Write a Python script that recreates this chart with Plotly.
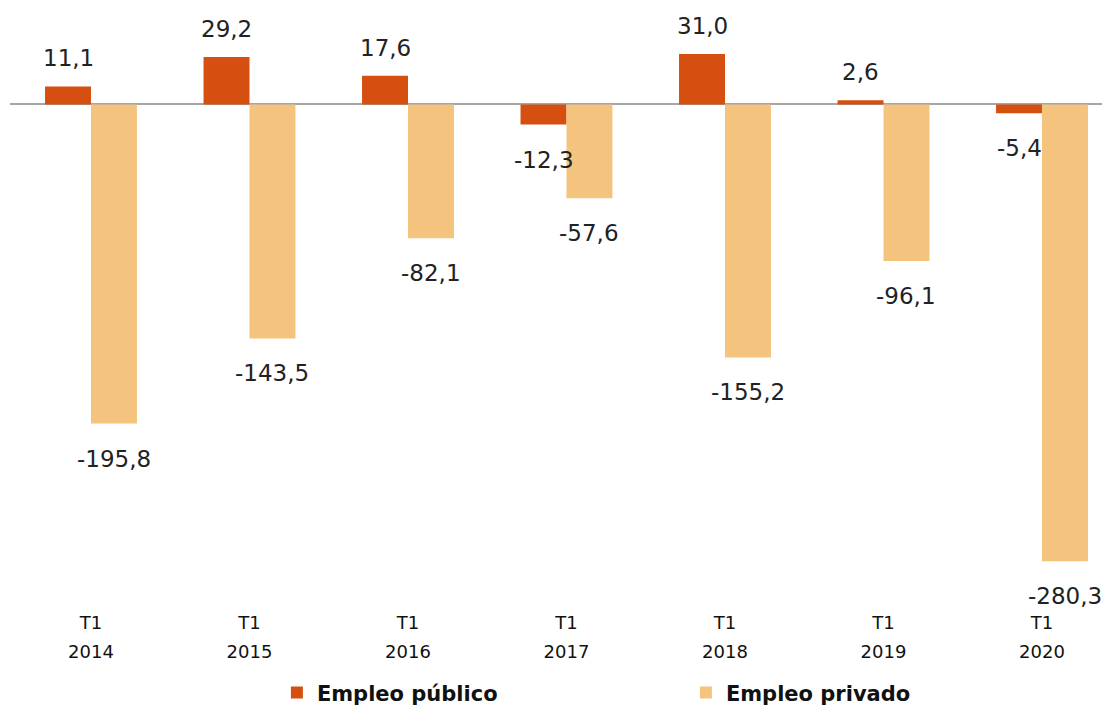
import plotly.graph_objects as go

# ---- data ----
periods = ["T1 2014", "T1 2015", "T1 2016", "T1 2017", "T1 2018", "T1 2019", "T1 2020"]
tick_quarter = ["T1"] * 7
tick_year = ["2014", "2015", "2016", "2017", "2018", "2019", "2020"]
empleo_publico = [11.1, 29.2, 17.6, -12.3, 31.0, 2.6, -5.4]
empleo_privado = [-195.8, -143.5, -82.1, -57.6, -155.2, -96.1, -280.3]
series_names = ["Empleo público", "Empleo privado"]

# ---- style ----
C_PUB = "#D54F10"
C_PRI = "#F4C47F"
BARGAP = 0.42
FONT = "DejaVu Sans"


def fmt(v):
    return f"{v:.1f}".replace(".", ",")


fig = go.Figure()
fig.add_trace(go.Bar(x=periods, y=empleo_publico, name=series_names[0],
                     marker=dict(color=C_PUB, line=dict(width=0))))
fig.add_trace(go.Bar(x=periods, y=empleo_privado, name=series_names[1],
                     marker=dict(color=C_PRI, line=dict(width=0))))

# data labels placed at bar ends via data coordinates
half = (1 - BARGAP) / 4
annotations = []
for series, sign in ((empleo_publico, -1), (empleo_privado, 1)):
    for i, v in enumerate(series):
        annotations.append(dict(
            x=i + sign * half, y=v, xref="x", yref="y",
            text=fmt(v), showarrow=False,
            yshift=28 if v >= 0 else -35,
            font=dict(family=FONT, size=23, color="#222222"),
        ))

ticktext = [f"<span style='font-size:18px'>{q}</span><br><span style='font-size:18px'>{y}</span>"
            for q, y in zip(tick_quarter, tick_year)]

fig.update_layout(
    width=1102, height=698,
    paper_bgcolor="white", plot_bgcolor="white",
    margin=dict(l=2, r=0, t=0, b=100),
    barmode="group", bargap=BARGAP, bargroupgap=0,
    font=dict(family=FONT, color="#222222"),
    annotations=annotations,
    showlegend=True,
    legend=dict(orientation="h", xref="container", yref="container",
                x=0.244, xanchor="left", y=0.019, yanchor="middle",
                font=dict(family=FONT, size=21, color="#111111", weight="bold"),
                entrywidth=364, entrywidthmode="pixels",
                itemsizing="constant", traceorder="normal"),
)
fig.update_xaxes(
    type="category", range=[-0.511, 6.429],
    tickmode="array", tickvals=periods, ticktext=ticktext,
    tickfont=dict(family=FONT, size=22, color="#111111"),
    showgrid=False, showline=False, ticks="", zeroline=False,
)
fig.update_yaxes(
    range=[-307.7, 59.2], showgrid=False, showticklabels=False,
    zeroline=True, zerolinecolor="#A6A6A6", zerolinewidth=2,
    showline=False, ticks="",
)

fig.write_html("out.html")
